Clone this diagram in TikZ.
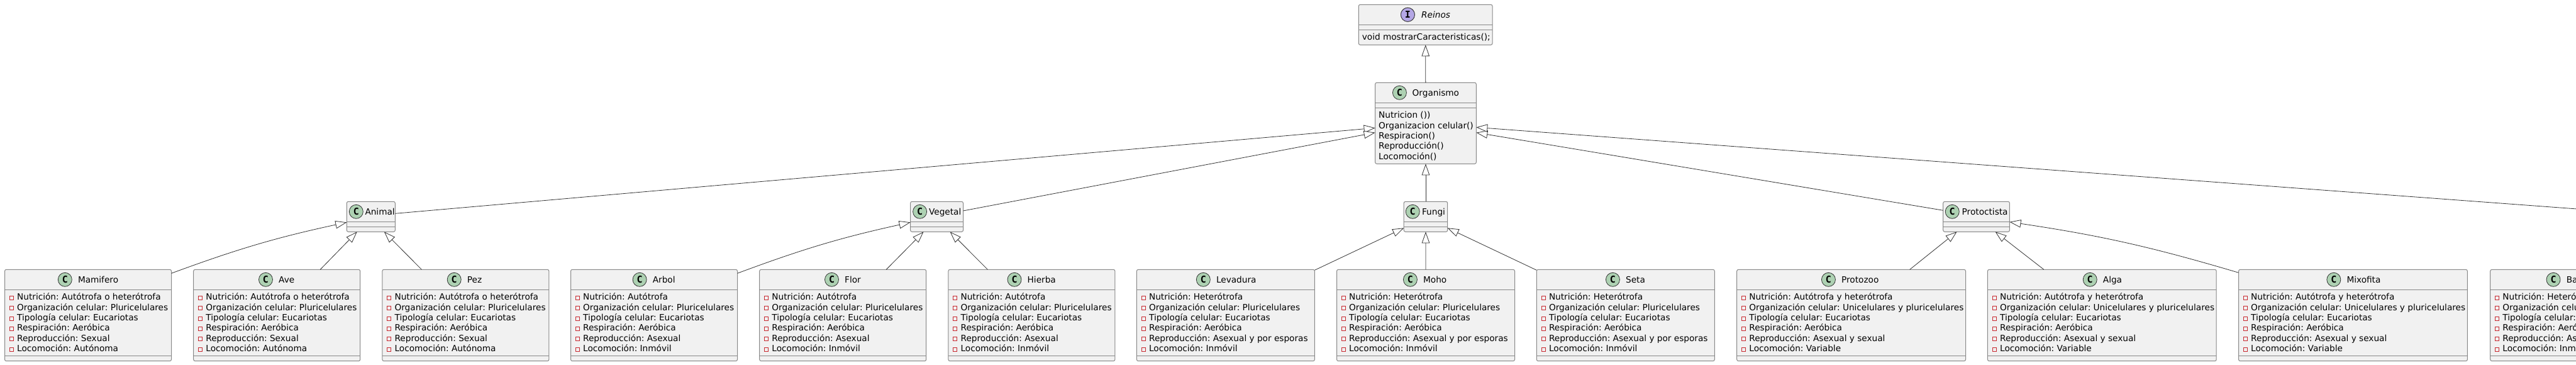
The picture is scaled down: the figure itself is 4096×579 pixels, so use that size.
\documentclass[tikz,border=0pt]{standalone}
\usepackage{fontspec}
\setmainfont{DejaVu Sans}
\setmonofont{DejaVu Sans Mono}
\usetikzlibrary{arrows.meta}
\definecolor{classfill}{HTML}{F1F1F1}
\definecolor{classline}{HTML}{888888}
\definecolor{isaline}{HTML}{333333}
\definecolor{classgreen}{HTML}{ADD1B2}
\definecolor{ifacepurple}{HTML}{B4A7E5}
\definecolor{privred}{HTML}{C82930}
\tikzset{
	classbox/.style={rectangle, draw=classline, fill=classfill, line width=1pt, rounded corners=2.5pt, inner sep=0pt, outer sep=0pt, anchor=north west},
	classsep/.style={draw=classline, line width=1pt},
	classicon/.style={circle, draw=isaline, line width=0.8pt, minimum size=22pt, inner sep=0pt, font=\fontsize{15}{15}\ttfamily\bfseries},
	classtitle/.style={inner sep=0pt, anchor=base west, text=black},
	member/.style={inner sep=0pt, anchor=base west, text=black},
	privmark/.style={rectangle, draw=privred, line width=0.7pt, fill=classfill, minimum size=6pt, inner sep=0pt},
	isa/.style={draw=isaline, line width=0.8pt, -{Triangle[length=18pt,width=12.5pt,fill=white]}}
}
\newcommand{\classhead}[7]{
	\node[classbox, minimum width=#4pt, minimum height=#5pt] (#1) at (#2,#3) {};
	\draw[classsep] ([yshift=-32pt]#1.north west) -- ([yshift=-32pt]#1.north east);
	\draw[classsep] ([yshift=-#6pt]#1.north west) -- ([yshift=-#6pt]#1.north east);
	\node[classicon, fill=classgreen] (#1-c) at (#7,#3+16) {C};
}
\newcommand{\lowerclass}[6]{
	\classhead{#1}{#2}{428.3}{#3}{145.4}{137}{#4}
	\node[classtitle] (#1-t) at (#4+20.5,449) {#5};
	\foreach \txt [count=\i] in {#6} {
		\pgfmathsetmacro{\rowy}{476.8+16.3*(\i-1)}
		\node[member] (#1-m\i) at (#2+19.5,\rowy) {\txt};
		\node[privmark] (#1-p\i) at (#2+10.8,\rowy-3.4) {};
	}
}
\begin{document}
\frenchspacing
\begin{tikzpicture}[x=1pt, y=-1pt, font=\fontsize{13.65}{16.3}\selectfont]
				\useasboundingbox (0,0) rectangle (4096,579);
				\clip (0,0) rectangle (4096,579);
				\classhead{reinos}{2160.3}{7.3}{212.7}{64}{40}{2238.4}
				\node[classicon, fill=ifacepurple] (reinos-i) at (2238.4,23.3) {I};
				\node[classtitle] (reinos-t) at (2260,28) {\itshape Reinos};
				\node[member] (reinos-m) at (2165.6,63.8) {void mostrarCaracteristicas();};
				\classhead{organismo}{2186.6}{131.3}{160.7}{129}{40}{2225.4}
				\node[classtitle] (organismo-t) at (2245.5,152.3) {Organismo};
				\foreach \txt [count=\i] in {Nutricion ()),Organizacion celular(),Respiracion(),Reproducción(),Locomoción()} {
					\pgfmathsetmacro{\rowy}{187.8+16.3*(\i-1)}
					\node[member] (organismo-m\i) at (2192,\rowy) {\txt};
				}
				\classhead{animal}{551.3}{320.3}{77}{48}{40}{566.3}
				\node[classtitle] (animal-t) at (580.3,341) {Animal};
				\classhead{vegetal}{1447.6}{320.3}{83.9}{48}{40}{1462.6}
				\node[classtitle] (vegetal-t) at (1476.9,341) {Vegetal};
				\classhead{fungi}{2232.2}{320.3}{69.5}{48}{40}{2246.2}
				\node[classtitle] (fungi-t) at (2260.9,341) {Fungi};
				\classhead{protoctista}{3089.7}{320.3}{105.7}{48}{40}{3104.2}
				\node[classtitle] (protoctista-t) at (3119.5,341) {Protoctista};
				\lowerclass{mamifero}{7.5}{265}{103.3}{Mamifero}{Nutrición: Autótrofa o heterótrofa,Organización celular: Pluricelulares,Tipología celular: Eucariotas,Respiración: Aeróbica,Reproducción: Sexual,Locomoción: Autónoma}
				\lowerclass{ave}{307.7}{265}{422.5}{Ave}{Nutrición: Autótrofa o heterótrofa,Organización celular: Pluricelulares,Tipología celular: Eucariotas,Respiración: Aeróbica,Reproducción: Sexual,Locomoción: Autónoma}
				\lowerclass{pez}{607.9}{265}{722.2}{Pez}{Nutrición: Autótrofa o heterótrofa,Organización celular: Pluricelulares,Tipología celular: Eucariotas,Respiración: Aeróbica,Reproducción: Sexual,Locomoción: Autónoma}
				\lowerclass{arbol}{907.5}{265}{1017.1}{Arbol}{Nutrición: Autótrofa,Organización celular: Pluricelulares,Tipología celular: Eucariotas,Respiración: Aeróbica,Reproducción: Asexual,Locomoción: Inmóvil}
				\lowerclass{flor}{1207.7}{265}{1322.5}{Flor}{Nutrición: Autótrofa,Organización celular: Pluricelulares,Tipología celular: Eucariotas,Respiración: Aeróbica,Reproducción: Asexual,Locomoción: Inmóvil}
				\lowerclass{hierba}{1507.9}{265}{1613}{Hierba}{Nutrición: Autótrofa,Organización celular: Pluricelulares,Tipología celular: Eucariotas,Respiración: Aeróbica,Reproducción: Asexual,Locomoción: Inmóvil}
				\lowerclass{levadura}{1807.4}{283}{1913.3}{Levadura}{Nutrición: Heterótrofa,Organización celular: Pluricelulares,Tipología celular: Eucariotas,Respiración: Aeróbica,Reproducción: Asexual y por esporas,Locomoción: Inmóvil}
				\lowerclass{moho}{2125.5}{283}{2242.4}{Moho}{Nutrición: Heterótrofa,Organización celular: Pluricelulares,Tipología celular: Eucariotas,Respiración: Aeróbica,Reproducción: Asexual y por esporas,Locomoción: Inmóvil}
				\lowerclass{seta}{2443.3}{283}{2564.4}{Seta}{Nutrición: Heterótrofa,Organización celular: Pluricelulares,Tipología celular: Eucariotas,Respiración: Aeróbica,Reproducción: Asexual y por esporas,Locomoción: Inmóvil}
				\lowerclass{protozoo}{2761.7}{363.8}{2907.4}{Protozoo}{Nutrición: Autótrofa y heterótrofa,Organización celular: Unicelulares y pluricelulares,Tipología celular: Eucariotas,Respiración: Aeróbica,Reproducción: Asexual y sexual,Locomoción: Variable}
				\lowerclass{alga}{3160.4}{363.8}{3323.2}{Alga}{Nutrición: Autótrofa y heterótrofa,Organización celular: Unicelulares y pluricelulares,Tipología celular: Eucariotas,Respiración: Aeróbica,Reproducción: Asexual y sexual,Locomoción: Variable}
				\lowerclass{mixofita}{3559.5}{363.8}{3710.8}{Mixofita}{Nutrición: Autótrofa y heterótrofa,Organización celular: Unicelulares y pluricelulares,Tipología celular: Eucariotas,Respiración: Aeróbica,Reproducción: Asexual y sexual,Locomoción: Variable}
				\lowerclass{bacteria}{3959.7}{283}{4060}{Ba}{Nutrición: Heteró,Organización celu,Tipología celular:,Respiración: Aeró,Reproducción: As,Locomoción: Inm}
				\coordinate (offpage) at (4096,331.9);
				\draw[isa] (organismo) to (reinos);
				\draw[isa] (fungi) to (organismo);
				\draw[isa] ([yshift=-19pt]animal.north east) to ([yshift=-72pt]organismo.north west);
				\draw[isa] ([yshift=-14.7pt]vegetal.north east) to ([yshift=-79.4pt]organismo.north west);
				\draw[isa] ([yshift=-14pt]protoctista.north west) to ([yshift=-79.4pt]organismo.north east);
				\draw[isa] (offpage) to ([yshift=-71pt]organismo.north east);
				\draw[isa] ([yshift=-6pt]mamifero.north east) to[bend left=4] ([yshift=-33pt]animal.north west);
				\draw[isa] ([xshift=69pt]ave.north) to ([xshift=-22pt]animal.south);
				\draw[isa] ([xshift=-70pt]pez.north) to ([xshift=21pt]animal.south);
				\draw[isa] ([yshift=-6pt]arbol.north east) to[bend left=4] ([yshift=-33pt]vegetal.north west);
				\draw[isa] ([xshift=69pt]flor.north) to ([xshift=-21pt]vegetal.south);
				\draw[isa] ([xshift=-70pt]hierba.north) to ([xshift=21pt]vegetal.south);
				\draw[isa] ([yshift=-1pt]levadura.north east) to ([yshift=-42pt]fungi.north west);
				\draw[isa] (moho) to (fungi);
				\draw[isa] ([yshift=-1pt]seta.north west) to ([yshift=-42pt]fungi.north east);
				\draw[isa] ([xshift=93pt]protozoo.north) to ([xshift=-31pt]protoctista.south);
				\draw[isa] ([xshift=-92.5pt]alga.north) to ([xshift=30pt]protoctista.south);
				\draw[isa] ([yshift=-5pt]mixofita.north west) to[bend right=4] ([yshift=-32.4pt]protoctista.north east);
			\end{tikzpicture}
\end{document}
